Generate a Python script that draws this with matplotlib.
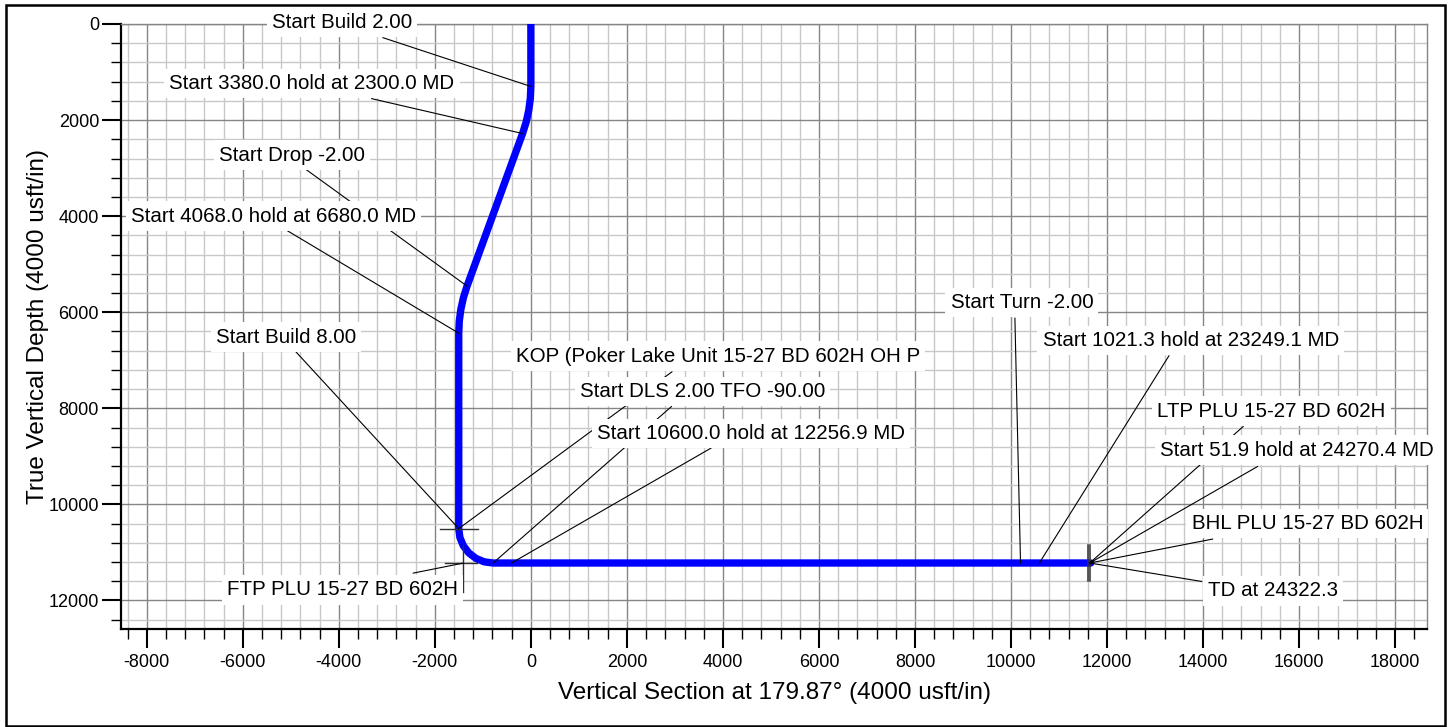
import matplotlib
matplotlib.use("Agg")
import matplotlib.pyplot as plt
from matplotlib.ticker import MultipleLocator
from matplotlib.patches import Rectangle

plt.rcParams['font.family'] = ['Liberation Sans', 'DejaVu Sans']
plt.rcParams['axes.unicode_minus'] = False

# ---- Well path (vertical section, TVD) ----
path_vs = [0, 0, -11, -44, -98, -173, -1329, -1404, -1458, -1491, -1502,
           -1502, -1478, -1406, -1292, -1144, -971, -786, 11660]
path_tvd = [0, 1300, 1550, 1797, 2041, 2280, 5456, 5694, 5938, 6186, 6436,
            10504, 10689, 10862, 11010, 11124, 11196, 11220, 11220]

# ---- Annotations: labels and the path points they refer to ----
ann_labels = [
    "Start Build 2.00",
    "Start 3380.0 hold at 2300.0 MD",
    "Start Drop -2.00",
    "Start 4068.0 hold at 6680.0 MD",
    "Start Build 8.00",
    "KOP (Poker Lake Unit 15-27 BD 602H OH P",
    "Start DLS 2.00 TFO -90.00",
    "Start 10600.0 hold at 12256.9 MD",
    "FTP PLU 15-27 BD 602H",
    "Start Turn -2.00",
    "Start 1021.3 hold at 23249.1 MD",
    "LTP PLU 15-27 BD 602H",
    "Start 51.9 hold at 24270.4 MD",
    "BHL PLU 15-27 BD 602H",
    "TD at 24322.3",
]
ann_vs = [0, -173, -1329, -1502, -1502, -1502, -786, -402, -1408,
          10198, 10590, 11640, 11640, 11640, 11640]
ann_tvd = [1300, 2280, 5456, 6436, 10504, 10504, 11220, 11220, 11222,
           11220, 11220, 11220, 11220, 11220, 11220]

# ---- Target markers (VS, TVD extents) ----
kop_vs = [-1900, -1110]
kop_tvd = 10504
ftp_vs = -1408
ftp_tvd = 11222
ftp_vs_span = [-1789, -1122]
ftp_tvd_span = [10841, 11819]
end_vs = [11595, 11650]
end_tvd_span = [10841, 11604]

x_ticks = list(range(-8000, 18001, 2000))
y_ticks = list(range(0, 12001, 2000))

# ---- Layout (label text anchor and leader start, data coordinates) ----
text_pos = [(-5398, 89), (-7530, 1358), (-6495, 2844), (-8334, 4114),
            (-6564, 6631), (-310, 7027), (1022, 7767), (1383, 8635),
            (-6335, 11896), (8742, 5916), (10658, 6700), (13045, 8171),
            (13101, 8983), (13761, 10514), (14107, 11916)]
lead_start = [(-3080, 285), (-3315, 1554), (-4690, 3023), (-5065, 4307),
              (-4898, 6819), (2938, 7241), (2928, 7963), (3751, 8829),
              (-2449, 11430), (10081, 6124), (13288, 6908), (14835, 8379),
              (15135, 9211), (14198, 10722), (13969, 11604)]

W, H = 1448, 727
fig = plt.figure(figsize=(W / 100, H / 100), dpi=100)
fig.patch.set_facecolor('white')
L, R, T, B = 121.3, 1427.3, 24.0, 629.3
ax = fig.add_axes([L / W, 1 - B / H, (R - L) / W, (B - T) / H])
ax.set_xlim(-8530, 18670)
ax.set_ylim(12600, 0)

ax.xaxis.set_major_locator(MultipleLocator(2000))
ax.xaxis.set_minor_locator(MultipleLocator(400))
ax.yaxis.set_major_locator(MultipleLocator(2000))
ax.yaxis.set_minor_locator(MultipleLocator(400))
ax.set_xticks(x_ticks)
ax.set_yticks(y_ticks)
ax.set_xticklabels([str(v) for v in x_ticks])
ax.set_yticklabels([str(v) for v in y_ticks])

ax.set_axisbelow(True)
ax.grid(which='minor', color='#c8c8c8', lw=1.0)
ax.grid(which='major', color='#858585', lw=1.0)

for s in ['left', 'bottom']:
    ax.spines[s].set_color('black')
    ax.spines[s].set_linewidth(1.6)
for s in ['top', 'right']:
    ax.spines[s].set_color('#858585')
    ax.spines[s].set_linewidth(1.0)

ax.tick_params(which='major', direction='out', length=14, width=1.5,
               labelsize=13, color='black')
ax.tick_params(which='minor', direction='out', length=7, width=1.0,
               color='black')
ax.tick_params(axis='x', which='major', pad=4)
ax.tick_params(axis='y', which='major', pad=2)

ax.set_xlabel('Vertical Section at 179.87° (4000 usft/in)', fontsize=17.5,
              labelpad=8)
ax.set_ylabel('True Vertical Depth (4000 usft/in)', fontsize=17.5,
              labelpad=0)

# well path
ax.plot(path_vs, path_tvd, color='#0000ff', lw=5.3, solid_capstyle='round',
        solid_joinstyle='round', zorder=3)

# target markers
mk = dict(color='#303030', lw=1.0, zorder=4)
ax.plot(kop_vs, [kop_tvd, kop_tvd], **mk)
ax.plot(ftp_vs_span, [ftp_tvd, ftp_tvd], **mk)
ax.plot([ftp_vs, ftp_vs], ftp_tvd_span, **mk)
for v in end_vs:
    ax.plot([v, v], end_tvd_span, color='#303030', lw=1.1, zorder=4)

# annotations
for lab, tx, ty, (px, py), (sx, sy) in zip(ann_labels, ann_vs, ann_tvd,
                                           text_pos, lead_start):
    ax.plot([sx, tx], [sy, ty], color='black', lw=0.8, zorder=4,
            clip_on=False)
    ax.text(px, py, lab, fontsize=14.8, ha='left', va='baseline',
            zorder=6, clip_on=False,
            bbox=dict(boxstyle='square,pad=0.25', fc='white', ec='none'))

# outer frame
fig.add_artist(Rectangle((5.5 / W, 1 - 725.5 / H), (1444.5 - 5.5) / W,
                         (725.5 - 5.0) / H, transform=fig.transFigure,
                         fill=False, ec='black', lw=1.8, zorder=-1))

fig.savefig('out.png', dpi=100, facecolor='white')
